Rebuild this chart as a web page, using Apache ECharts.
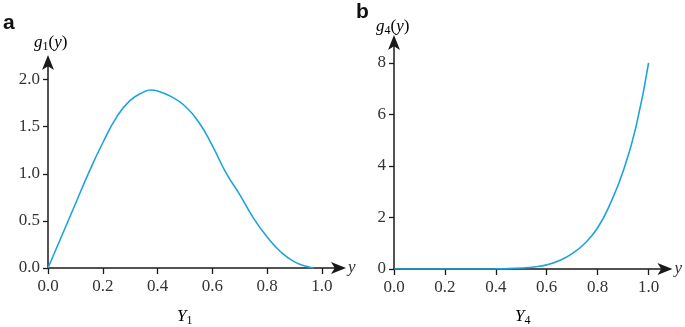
<!DOCTYPE html>
<html>
<head>
<meta charset="utf-8">
<script src="https://cdn.jsdelivr.net/npm/echarts@6/dist/echarts.min.js"></script>
<style>html,body{margin:0;padding:0;background:#fff}#c{width:685px;height:327px}</style>
</head>
<body>
<div id="c"></div>
<script>
// Panel a: g1(y)
var g1X = [0, 0.05, 0.1, 0.15, 0.2, 0.25, 0.3, 0.35, 0.375, 0.4, 0.45, 0.5, 0.55, 0.6, 0.65, 0.7, 0.75, 0.8, 0.85, 0.9, 0.95, 0.97];
var g1Y = [0, 0.34, 0.68, 1.02, 1.33, 1.6, 1.78, 1.87, 1.89, 1.88, 1.82, 1.72, 1.55, 1.3, 1.01, 0.78, 0.53, 0.33, 0.17, 0.065, 0.012, 0];
// Panel b: g4(y)
var g4X = [0, 0.1, 0.2, 0.3, 0.4, 0.45, 0.5, 0.55, 0.6, 0.65, 0.7, 0.75, 0.8, 0.85, 0.9, 0.95, 1.0];
var g4Y = [0, 0, 0, 0, 0.005, 0.015, 0.04, 0.08, 0.16, 0.33, 0.6, 1.0, 1.6, 2.55, 3.8, 5.5, 8.0];
var xTicks = [0, 0.2, 0.4, 0.6, 0.8, 1.0];
var y1Ticks = [0, 0.5, 1.0, 1.5, 2.0];
var y4Ticks = [0, 2, 4, 6, 8];

function pairs(xs, ys) { return xs.map(function (x, i) { return [x, ys[i]]; }); }

var serif = '"Liberation Serif","DejaVu Serif",serif';
var axisCol = '#1a1a1a';
var lblCol = '#333333';
var lineCol = '#1fa3dc';

function xAxis(gi, max) {
  return {
    type: 'value', gridIndex: gi, min: 0, max: max,
    name: 'y', nameGap: 5,
    nameTextStyle: { fontFamily: serif, fontStyle: 'italic', fontSize: 17, color: lblCol, verticalAlign: 'middle' },
    axisLine: { show: true, onZero: false, symbol: ['none', 'arrow'], symbolSize: [9, 15], symbolOffset: [0, 3],
      lineStyle: { color: axisCol, width: 1.5 } },
    axisTick: { show: true, length: 6, customValues: xTicks, lineStyle: { color: axisCol, width: 1.3 } },
    axisLabel: { customValues: xTicks, margin: 10, fontFamily: serif, fontSize: 17, color: lblCol,
      formatter: function (v) { return v.toFixed(1); } },
    splitLine: { show: false }
  };
}
function yAxis(gi, max, ticks, dec) {
  return {
    type: 'value', gridIndex: gi, min: 0, max: max,
    axisLine: { show: true, onZero: false, symbol: ['none', 'arrow'], symbolSize: [9, 15], symbolOffset: [0, 3],
      lineStyle: { color: axisCol, width: 1.5 } },
    axisTick: { show: true, length: 5, customValues: ticks, lineStyle: { color: axisCol, width: 1.3 } },
    axisLabel: { customValues: ticks, margin: 8, fontFamily: serif, fontSize: 17, color: lblCol,
      formatter: function (v) { return v.toFixed(dec); } },
    splitLine: { show: false }
  };
}

var chart = echarts.init(document.getElementById('c'), null, { renderer: 'canvas' });
var sub = {
  m: { fontFamily: serif, fontStyle: 'italic', fontSize: 17, color: lblCol },
  r: { fontFamily: serif, fontSize: 17, color: lblCol },
  s: { fontFamily: serif, fontSize: 12, color: lblCol, verticalAlign: 'bottom', padding: [8, 0, 0, 0] }
};
chart.setOption({
  animation: false,
  grid: [
    { left: 48, top: 58, width: 295, height: 210 },
    { left: 394, top: 38, width: 278, height: 231 }
  ],
  xAxis: [xAxis(0, 1.077), xAxis(1, 1.082)],
  yAxis: [yAxis(0, 2.23, y1Ticks, 1), yAxis(1, 8.97, y4Ticks, 0)],
  series: [
    { type: 'line', xAxisIndex: 0, yAxisIndex: 0, data: pairs(g1X, g1Y), smooth: 0.5,
      showSymbol: false, lineStyle: { color: lineCol, width: 1.6 }, z: 5 },
    { type: 'line', xAxisIndex: 1, yAxisIndex: 1, data: pairs(g4X, g4Y), smooth: 0.5,
      showSymbol: false, lineStyle: { color: lineCol, width: 1.6 }, z: 5 }
  ],
  graphic: [
    { type: 'text', left: 3, top: 13, style: { text: 'a', font: 'bold 21px "Liberation Sans", Arial, sans-serif', fill: '#111' } },
    { type: 'text', left: 356, top: 2, style: { text: 'b', font: 'bold 21px "Liberation Sans", Arial, sans-serif', fill: '#111' } },
    { type: 'text', left: 34, top: 34, style: { text: '{m|g}{s|1}{r|(}{m|y}{r|)}', rich: sub } },
    { type: 'text', left: 376, top: 18, style: { text: '{m|g}{s|4}{r|(}{m|y}{r|)}', rich: sub } },
    { type: 'text', left: 177, top: 308, style: { text: '{m|Y}{s|1}', rich: sub } },
    { type: 'text', left: 515, top: 308, style: { text: '{m|Y}{s|4}', rich: sub } }
  ]
});
</script>
</body>
</html>
